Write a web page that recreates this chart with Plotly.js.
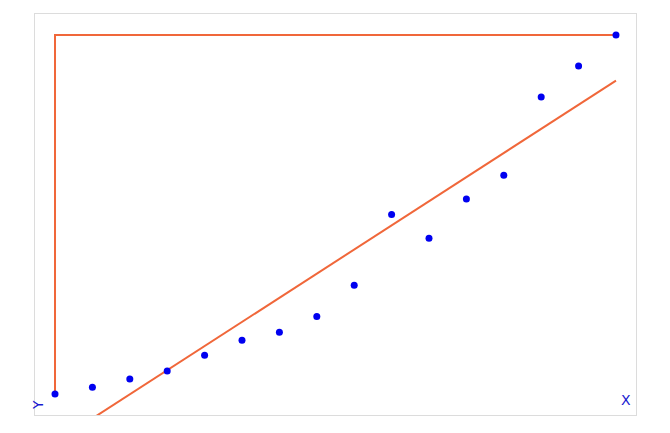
<!DOCTYPE html>
<html>
<head>
<meta charset="utf-8">
<script src="https://cdn.plot.ly/plotly-3.0.1.min.js"></script>
<style>
  html, body { margin: 0; padding: 0; background: #fff; }
  #graph { width: 670px; height: 433px; }
</style>
</head>
<body>
<div id="graph"></div>
<script>
"use strict";

// --- veriler ---
const xDegerleri = [0, 1, 2, 3, 4, 5, 6, 7, 8, 9, 10, 11, 12, 13, 14, 15];
const yDegerleri = [0, 1.9, 4.2, 6.4, 10.8, 15.0, 17.2, 21.6, 30.3, 50.0, 43.4, 54.3, 60.9, 82.7, 91.4, 100];
const eksenEtiketleri = ['X', 'Y'];

// en küçük kareler doğrusu
function regresyon(xs, ys) {
    const n = xs.length;
    const mx = xs.reduce((a, b) => a + b, 0) / n;
    const my = ys.reduce((a, b) => a + b, 0) / n;
    let sxy = 0, sxx = 0;
    for (let i = 0; i < n; i++) {
        sxy += (xs[i] - mx) * (ys[i] - my);
        sxx += (xs[i] - mx) * (xs[i] - mx);
    }
    const egim = sxy / sxx;
    return { egim: egim, kesisim: my - egim * mx };
}

const reg = regresyon(xDegerleri, yDegerleri);
const xUclar = [xDegerleri[0], xDegerleri[xDegerleri.length - 1]];
const regY = xUclar.map(x => reg.kesisim + reg.egim * x);
const sonIdx = xDegerleri.length - 1;

const turuncu = '#f0673a';
const mavi = '#0000f0';

const traces = [
    {
        x: [xDegerleri[0], xDegerleri[sonIdx]],
        y: [yDegerleri[0], yDegerleri[sonIdx]],
        mode: 'lines', type: 'scatter',
        line: { color: turuncu, width: 2, shape: 'vh' },
        hoverinfo: 'skip'
    },
    {
        x: xUclar, y: regY,
        mode: 'lines', type: 'scatter',
        line: { color: turuncu, width: 2 },
        hoverinfo: 'skip'
    },
    {
        x: xDegerleri, y: yDegerleri,
        mode: 'markers', type: 'scatter',
        marker: { color: mavi, size: 7 }
    }
];

const eksenOrtak = {
    showgrid: false, zeroline: false, showticklabels: false, ticks: '',
    showline: true, mirror: true, linecolor: '#dcdcdc', linewidth: 1
};

const layout = {
    width: 670, height: 433,
    margin: { l: 35, r: 34, t: 14, b: 18 },
    paper_bgcolor: '#fff', plot_bgcolor: '#fff',
    showlegend: false,
    xaxis: Object.assign({ range: [-0.535, 15.535] }, eksenOrtak),
    yaxis: Object.assign({ range: [-5.85, 105.85] }, eksenOrtak),
    annotations: [
        {
            xref: 'paper', yref: 'paper', x: 0.983, y: 0.037,
            xanchor: 'center', yanchor: 'middle',
            text: eksenEtiketleri[0], showarrow: false,
            font: { family: 'DejaVu Sans, sans-serif', size: 14, color: '#1a1ad0' }
        },
        {
            xref: 'paper', yref: 'paper', x: 0.005, y: 0.025,
            xanchor: 'center', yanchor: 'middle',
            text: eksenEtiketleri[1], showarrow: false, textangle: -90,
            font: { family: 'DejaVu Sans, sans-serif', size: 14, color: '#1a1ad0' }
        }
    ]
};

Plotly.newPlot('graph', traces, layout, { staticPlot: true });
</script>
</body>
</html>
